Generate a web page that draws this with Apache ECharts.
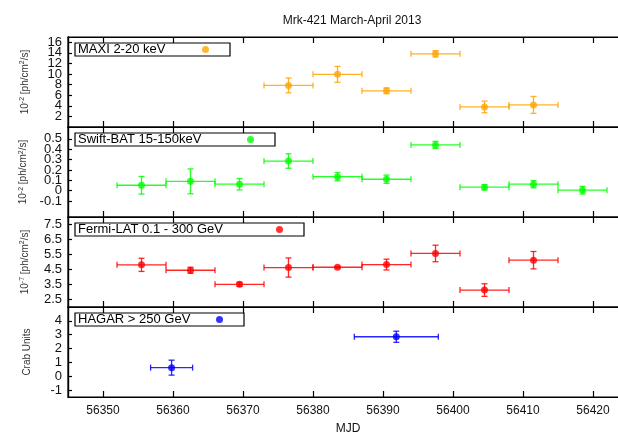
<!DOCTYPE html>
<html>
<head>
<meta charset="utf-8">
<script src="https://cdn.jsdelivr.net/npm/echarts@6/dist/echarts.min.js"></script>
<style>
  html, body { margin: 0; padding: 0; background: #fff; }
  #chart { width: 618px; height: 432px; }
</style>
</head>
<body>
<div id="chart"></div>
<script>
// data
var xTicks = [56350, 56360, 56370, 56380, 56390, 56400, 56410, 56420];

var maxiMjd = [56376.5, 56383.5, 56390.5, 56397.5, 56404.5, 56411.5];
var maxiHalf = [3.5, 3.5, 3.5, 3.5, 3.5, 3.5];
var maxiVal = [7.85, 9.95, 6.84, 13.82, 3.79, 4.17];
var maxiErr = [1.4, 1.5, 0.55, 0.6, 1.1, 1.6];
var maxiTicks = [2, 4, 6, 8, 10, 12, 14, 16];

var batMjd = [56355.5, 56362.5, 56369.5, 56376.5, 56383.5, 56390.5, 56397.5, 56404.5, 56411.5, 56418.5];
var batHalf = [3.5, 3.5, 3.5, 3.5, 3.5, 3.5, 3.5, 3.5, 3.5, 3.5];
var batVal = [0.052, 0.09, 0.062, 0.286, 0.135, 0.11, 0.442, 0.033, 0.062, 0.004];
var batErr = [0.085, 0.12, 0.055, 0.07, 0.04, 0.04, 0.034, 0.026, 0.035, 0.037];
var batTicks = [-0.1, 0, 0.1, 0.2, 0.3, 0.4, 0.5];

var latMjd = [56355.5, 56362.5, 56369.5, 56376.5, 56383.5, 56390.5, 56397.5, 56404.5, 56411.5];
var latHalf = [3.5, 3.5, 3.5, 3.5, 3.5, 3.5, 3.5, 3.5, 3.5];
var latVal = [4.81, 4.45, 3.51, 4.63, 4.65, 4.83, 5.57, 3.13, 5.12];
var latErr = [0.44, 0.2, 0.13, 0.64, 0.05, 0.36, 0.55, 0.42, 0.58];
var latTicks = [2.5, 3.5, 4.5, 5.5, 6.5, 7.5];

var hagarMjd = [56359.8, 56391.9];
var hagarHalf = [3, 6];
var hagarVal = [0.62, 2.85];
var hagarErr = [0.54, 0.4];
var hagarTicks = [-1, 0, 1, 2, 3, 4];

var font = 'Liberation Sans';

var panels = [
    {name: 'MAXI 2-20 keV', color: '#ffa500', mjd: maxiMjd, half: maxiHalf, val: maxiVal, err: maxiErr,
     ticks: maxiTicks, min: 0, max: 17, unit: '{n|10}{s|-2}{n| [ph/cm}{s|2}{n|/s]}', textW: 119, top: 37},
    {name: 'Swift-BAT 15-150keV', color: '#00ff00', mjd: batMjd, half: batHalf, val: batVal, err: batErr,
     ticks: batTicks, min: -0.255, max: 0.615, unit: '{n|10}{s|-2}{n| [ph/cm}{s|2}{n|/s]}', textW: 164, top: 127},
    {name: 'Fermi-LAT 0.1 - 300 GeV', color: '#ff0000', mjd: latMjd, half: latHalf, val: latVal, err: latErr,
     ticks: latTicks, min: 2, max: 8, unit: '{n|10}{s|-7}{n| [ph/cm}{s|2}{n|/s]}', textW: 193, top: 217},
    {name: 'HAGAR > 250 GeV', color: '#0000ff', mjd: hagarMjd, half: hagarHalf, val: hagarVal, err: hagarErr,
     ticks: hagarTicks, min: -1.5, max: 5, unit: '{n|Crab Units}', textW: 133, top: 307}
];

function renderErr(params, api) {
    var x = api.value(0), y = api.value(1), dx = api.value(2), e = api.value(3);
    var l = api.coord([x - dx, y]);
    var r = api.coord([x + dx, y]);
    var t = api.coord([x, y + e]);
    var b = api.coord([x, y - e]);
    var st = {stroke: api.visual('color'), lineWidth: 1.3, opacity: 0.85};
    var c = 3;
    var lines = [
        [l[0], l[1], r[0], r[1]],
        [l[0], l[1] - c, l[0], l[1] + c],
        [r[0], r[1] - c, r[0], r[1] + c],
        [t[0], t[1], b[0], b[1]],
        [t[0] - c, t[1], t[0] + c, t[1]],
        [b[0] - c, b[1], b[0] + c, b[1]]
    ];
    return {
        type: 'group',
        children: lines.map(function (p) {
            return {type: 'line', shape: {x1: p[0], y1: p[1], x2: p[2], y2: p[3]}, style: st};
        })
    };
}

var axisLine = {show: true, onZero: false, lineStyle: {color: '#000', width: 1.2}};
var grids = [], xAxes = [], yAxes = [], series = [], legends = [];

panels.forEach(function (p, i) {
    var last = i === panels.length - 1;
    grids.push({left: 68, right: -10, top: p.top, height: 90, outerBoundsMode: 'none', containLabel: false,
        show: true, borderColor: '#000', borderWidth: 1.2});

    xAxes.push({
        type: 'value', gridIndex: i, min: 56345, max: 56425, position: 'bottom',
        axisLine: axisLine, splitLine: {show: false},
        axisTick: {show: true, inside: true, length: 6, customValues: xTicks, lineStyle: {color: '#000', width: 1.2}},
        axisLabel: {show: last, customValues: xTicks, fontFamily: font, fontSize: 12, color: '#111', margin: 8,
            formatter: function (v) { return String(v); }},
        name: last ? 'MJD' : '', nameLocation: 'middle', nameGap: 26,
        nameTextStyle: {fontFamily: font, fontSize: 12, color: '#111'}
    });
    xAxes.push({
        type: 'value', gridIndex: i, min: 56345, max: 56425, position: 'top',
        axisLine: axisLine, splitLine: {show: false},
        axisTick: {show: true, inside: true, length: 6, customValues: xTicks, lineStyle: {color: '#000', width: 1.2}},
        axisLabel: {show: false, customValues: xTicks}
    });

    // labels split over two stacked left axes so neighbouring labels never collide
    [0, 1].forEach(function (half) {
        var vals = p.ticks.filter(function (v, k) { return k % 2 === half; });
        yAxes.push({
            type: 'value', gridIndex: i, min: p.min, max: p.max, position: 'left', offset: 0,
            axisLine: axisLine, splitLine: {show: false},
            axisTick: {show: true, inside: true, length: 4, customValues: vals, lineStyle: {color: '#000', width: 1.2}},
            axisLabel: {customValues: vals, fontFamily: font, fontSize: 13, color: '#111', margin: 6,
                formatter: function (v) { return String(v); }},
            name: half === 0 ? p.unit : '', nameLocation: 'middle', nameRotate: 90, nameGap: 36,
            nameTextStyle: {
                fontFamily: font, color: '#333',
                rich: {n: {fontFamily: font, fontSize: 10, color: '#333'}, s: {fontFamily: font, fontSize: 7, color: '#333', verticalAlign: 'top', padding: [0, 0, 6, 0]}}
            }
        });
    });

    series.push({
        type: 'custom', name: p.name + ' err', xAxisIndex: 2 * i, yAxisIndex: 2 * i,
        itemStyle: {color: p.color}, renderItem: renderErr,
        encode: {x: 0, y: 1},
        data: p.mjd.map(function (m, k) { return [m, p.val[k], p.half[k], p.err[k]]; }),
        z: 2
    });
    series.push({
        type: 'scatter', name: p.name, xAxisIndex: 2 * i + 1, yAxisIndex: 2 * i + 1,
        symbol: 'circle', symbolSize: 7, itemStyle: {color: p.color},
        data: p.mjd.map(function (m, k) { return [m, p.val[k]]; }),
        z: 3
    });

    legends.push({
        data: [p.name], left: 75, top: p.top + 6, align: 'right', icon: 'circle',
        itemWidth: 7, itemHeight: 7, padding: [0, 21, 0, 3],
        borderColor: '#000', borderWidth: 1.2, selectedMode: false,
        formatter: '{a|{name}}',
        textStyle: {fontFamily: font, fontSize: 13, color: '#000', lineHeight: 12,
            rich: {a: {fontFamily: font, fontSize: 13, color: '#000', width: p.textW, align: 'left', lineHeight: 12}}}
    });
});

var chart = echarts.init(document.getElementById('chart'), null, {renderer: 'canvas'});
chart.setOption({
    animation: false,
    backgroundColor: '#fff',
    title: {
        text: 'Mrk-421 March-April 2013', left: 347, top: 10, textAlign: 'center',
        textStyle: {fontFamily: font, fontSize: 12, fontWeight: 'normal', color: '#111'}
    },
    tooltip: {show: false},
    legend: legends,
    grid: grids,
    xAxis: xAxes,
    yAxis: yAxes,
    series: series
});
</script>
</body>
</html>
